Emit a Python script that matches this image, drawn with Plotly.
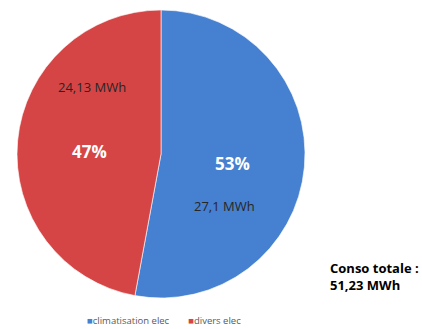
import math
import plotly.graph_objects as go

labels = ["climatisation elec", "divers elec"]
values = [27.1, 24.13]
value_labels = ["27,1 MWh", "24,13 MWh"]
colors = ["#4680d0", "#d64545"]
total_label = "Conso totale :<br>51,23 MWh"

W, H = 422, 329
cx, cy, R = 161, 154, 144

fig = go.Figure(go.Pie(
    labels=labels, values=values, sort=False, direction="clockwise", rotation=0,
    marker=dict(colors=colors, line=dict(color="rgba(255,255,255,0.6)", width=1)),
    textinfo="none", hoverinfo="label+value+percent", showlegend=False,
    domain=dict(x=[(cx - R) / W, (cx + R) / W], y=[(H - cy - R) / H, (H - cy + R) / H]),
))

total = sum(values)
ann = []
start = 0.0
pct_r = [0.50, 0.50]
pct_off = [2, -3]
val_r = [0.57, 0.67]
val_off = [34, 39]
for i, v in enumerate(values):
    frac = v / total
    mid = start + frac * 360 / 2
    start += frac * 360
    for r, off, txt, font in [
        (pct_r[i], pct_off[i], f"<b>{round(frac * 100):d}%</b>", dict(size=17, color="white", family="Open Sans")),
        (val_r[i], val_off[i], value_labels[i], dict(size=13, color="#262626", family="Open Sans")),
    ]:
        a = math.radians(mid + off)
        px = cx + r * R * math.sin(a)
        py = cy - r * R * math.cos(a)
        ann.append(dict(x=px / W, y=1 - py / H, xref="paper", yref="paper", text=txt,
                        showarrow=False, font=font, xanchor="center", yanchor="middle"))

ann.append(dict(x=328 / W, y=1 - 276 / H, xref="paper", yref="paper", text=f"<b>{total_label}</b>",
                showarrow=False, align="left", xanchor="left", yanchor="middle",
                font=dict(size=13, color="black", family="Open Sans")))

# legend built from labels and colors
legend_text = "&#8195;&#8195;".join(
    f"<span style='color:{c}'>■</span>{l}" for l, c in zip(labels, colors))
ann.append(dict(x=164 / W, y=1 - 320 / H, xref="paper", yref="paper", text=legend_text,
                showarrow=False, xanchor="center", yanchor="middle",
                font=dict(size=9.5, color="#595959", family="Open Sans")))

fig.update_layout(
    width=W, height=H, margin=dict(l=0, r=0, t=0, b=0),
    paper_bgcolor="white", plot_bgcolor="white",
    annotations=ann,
)
fig.write_html("out.html")
